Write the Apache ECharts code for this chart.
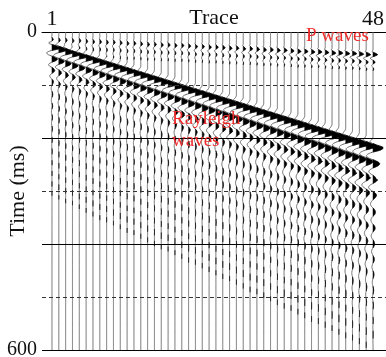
<!DOCTYPE html>
<html><head><meta charset="utf-8">
<script src="https://cdn.jsdelivr.net/npm/echarts@6/dist/echarts.min.js"></script>
<style>html,body{margin:0;padding:0;background:#fff}#c{width:386px;height:357px}</style>
</head><body><div id="c"></div>
<script>
// ---- data ----
const traces = [1,2,3,4,5,6,7,8, 9,10,11,12,13,14,15,16, 17,18,19,20,21,22,23,24,
                25,26,27,28,29,30,31,32, 33,34,35,36,37,38,39,40, 41,42,43,44,45,46,47,48];
const xTickLabels = [1, 48];
const yTickLabels = [0, 600];
// P-wave onset (ms) and amplitude (in trace spacings)
const pArrival = [6,7,7,8,8,9,10,10, 11,11,12,13,13,14,15,15, 16,16,17,17,18,19,19,20,
                  20,21,22,22,23,23,24,25, 25,26,26,27,28,28,29,29, 30,31,31,32,32,33,34,34];
const pAmp = [.20,.20,.21,.21,.22,.22,.23,.23, .24,.24,.25,.25,.26,.26,.27,.27,
              .28,.28,.29,.29,.30,.30,.31,.31, .32,.33,.34,.35,.36,.37,.38,.39,
              .40,.41,.42,.43,.44,.46,.48,.50, .52,.54,.56,.58,.60,.62,.64,.66];
// Rayleigh first black peak (ms), amplitude, and period stretch
const rArrival = [25,29,33,37,41,45,49,53, 57,61,65,69,73,77,81,85,
                  89,93,97,101,105,109,113,117, 121,125,129,133,137,141,145,149,
                  153,157,161,165,169,173,177,181, 185,189,193,197,201,205,209,213];
const rAmp = [.70,.70,.70,.71,.71,.71,.72,.72, .72,.73,.73,.73,.74,.74,.74,.75,
              .75,.75,.76,.76,.76,.77,.77,.77, .78,.78,.78,.79,.79,.79,.80,.80,
              .80,.81,.81,.81,.82,.82,.82,.83, .83,.83,.84,.84,.84,.85,.85,.85];
const rStretch = [1.00,1.01,1.02,1.02,1.03,1.04,1.05,1.06, 1.06,1.07,1.08,1.09,1.09,1.10,1.11,1.12,
                  1.13,1.13,1.14,1.15,1.16,1.16,1.17,1.18, 1.19,1.20,1.20,1.21,1.22,1.23,1.23,1.24,
                  1.25,1.26,1.27,1.27,1.28,1.29,1.30,1.30, 1.31,1.32,1.33,1.34,1.34,1.35,1.36,1.37];
const codaAmp = [.18,.18,.18,.17,.17,.17,.16,.16, .16,.16,.16,.17,.17,.17,.18,.18,
                 .18,.19,.19,.20,.20,.21,.21,.22, .23,.24,.25,.26,.27,.28,.29,.30,
                 .32,.34,.36,.38,.40,.42,.44,.46, .48,.50,.52,.53,.54,.55,.56,.57];
// wavelet shapes (samples)
const pWavelet = [0,-0.2,0.5,1.0,0.2,-0.6,-0.3,0.3,0.4,-0.1,-0.3,0,0.15,0];           // 3 ms step
const rWavelet = [0,-0.2,-0.5,0.5,1.7,1.3,-0.3,-1.1,-0.8,0.3,1.1,0.9,-0.1,-0.7,-0.5,
                  0.2,0.5,0.3,-0.1,-0.3,-0.15,0.05,0.15,0.05,0];                         // 3.6 ms step, starts -11 ms
const codaWavelet = [0.5,0.2,-0.5,-0.7,-0.1,0.6,0.6,-0.1,-0.6,-0.5,
                     0.2,0.6,0.4,-0.3,-0.55,-0.2,0.4,0.5,0,-0.45,
                     -0.35,0.15,0.4,0.2,-0.25,-0.35,-0.05,0.3,0.25,-0.1,
                     -0.28,-0.12,0.18,0.22,0,-0.18,-0.15,0.06,0.16,0.08,
                     -0.1,-0.12,0,0.1,0.07,-0.05,-0.08,-0.02,0.05,0.04,
                     -0.02,-0.04,0,0.03,0.02,-0.01,-0.02,0,0.01,0];                      // 4 ms step

// ---- helpers ----
function waveAt(w, step, t0, t) {
  const u = (t - t0) / step;
  if (u < 0 || u >= w.length - 1) return 0;
  const k = Math.floor(u), f = u - k;
  const p0 = w[Math.max(k - 1, 0)], p1 = w[k], p2 = w[k + 1], p3 = w[Math.min(k + 2, w.length - 1)];
  return 0.5 * ((2 * p1) + (-p0 + p2) * f + (2 * p0 - 5 * p1 + 4 * p2 - p3) * f * f + (-p0 + 3 * p1 - 3 * p2 + p3) * f * f * f);
}
function traceValue(i, t) {
  const st = rStretch[i];
  let s = pAmp[i] * waveAt(pWavelet, 3, pArrival[i], t);
  s += rAmp[i] * waveAt(rWavelet, 3.6 * st, rArrival[i] - 11 * st, t);
  s += codaAmp[i] * waveAt(codaWavelet, 4 * st, rArrival[i] + 48 * st, t);
  return Math.max(-1.5, Math.min(1.5, s));
}

const serif = "'Liberation Serif','Times New Roman',serif";
const chart = echarts.init(document.getElementById('c'), null, {renderer: 'canvas'});
chart.setOption({
  animation: false,
  grid: {left: 42, right: 0, top: 32, bottom: 7, containLabel: false, outerBoundsMode: 'none'},
  xAxis: {
    type: 'value', position: 'top', min: -0.46, max: 49.9,
    name: 'Trace', nameLocation: 'middle', nameGap: 3, nameMoveOverlap: false,
    nameTextStyle: {fontFamily: serif, fontSize: 22, color: '#111', verticalAlign: 'bottom'},
    axisLine: {show: true, lineStyle: {color: '#000', width: 1}},
    axisTick: {show: false}, splitLine: {show: false},
    axisLabel: {customValues: xTickLabels, fontFamily: serif, fontSize: 22, color: '#111', margin: 2}
  },
  yAxis: {
    type: 'value', inverse: true, min: 0, max: 600, interval: 600,
    name: 'Time (ms)', nameLocation: 'middle', nameGap: 13, nameRotate: 90, nameMoveOverlap: false,
    nameTextStyle: {fontFamily: serif, fontSize: 22, color: '#111'},
    axisLine: {show: false}, axisTick: {show: false}, splitLine: {show: false},
    axisLabel: {customValues: yTickLabels, fontFamily: serif, fontSize: 20, color: '#111', margin: 5}
  },
  series: [
    {
      type: 'line', data: [], silent: true,
      markLine: {
        silent: true, symbol: 'none', label: {show: false},
        data: [
          {yAxis: 100, lineStyle: {type: [4, 3], color: '#333', width: 1}},
          {yAxis: 300, lineStyle: {type: [4, 3], color: '#333', width: 1}},
          {yAxis: 500, lineStyle: {type: [4, 3], color: '#333', width: 1}},
          {yAxis: 200, lineStyle: {type: 'solid', color: '#000', width: 1}},
          {yAxis: 400, lineStyle: {type: 'solid', color: '#000', width: 1}},
          {yAxis: 600, lineStyle: {type: 'solid', color: '#000', width: 1}}
        ]
      }
    },
    {
      type: 'custom', data: traces.map(v => [v]), clip: true,
      renderItem: function (params, api) {
        const i = params.dataIndex;
        const x0 = api.value(0);
        const children = [];
        const line = [];
        let seg = null, prevS = 0;
        for (let t = 0; t <= 600; t += 1) {
          const s = traceValue(i, t);
          const c = api.coord([x0 + s, t]);
          line.push(c);
          if (s > 0) {
            if (!seg) {
              const tc = t - (prevS < 0 ? s / (s - prevS) : 0);
              seg = [api.coord([x0, tc])];
            }
            seg.push(c);
          } else if (seg) {
            const tc = t - (s < 0 ? (-s) / (prevS - s) : 0);
            seg.push(api.coord([x0, tc]));
            children.push({type: 'polygon', shape: {points: seg}, style: {fill: '#000', stroke: '#000', lineWidth: 0.5}});
            seg = null;
          }
          prevS = s;
        }
        children.unshift({type: 'polyline', shape: {points: line}, style: {stroke: '#666', lineWidth: 1, fill: null}});
        return {type: 'group', children: children};
      }
    }
  ],
  graphic: [
    {type: 'text', left: 306, top: 27, z: 100,
     style: {text: 'P waves', fill: '#ee2b2b', font: "19px 'Liberation Serif', serif"}},
    {type: 'text', left: 172, top: 108, z: 100,
     style: {text: 'Rayleigh\nwaves', fill: '#ee2b2b', font: "19px 'Liberation Serif', serif", lineHeight: 22}}
  ]
});
</script></body></html>
